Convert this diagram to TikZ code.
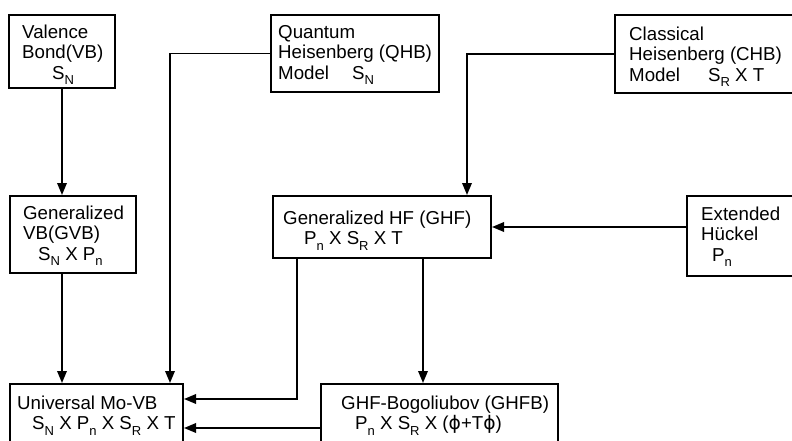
\documentclass[tikz,border=0pt]{standalone}
\usepackage{fontspec}
\setmainfont{Liberation Sans}
\newfontfamily\phifont{DejaVu Sans}
\usetikzlibrary{arrows.meta}
\newcommand{\lsub}[1]{\raisebox{-0.28em}{\fontsize{13pt}{13pt}\selectfont #1}}
\begin{document}
\begin{tikzpicture}[x=1pt,y=-1pt,
  blk/.style={draw, line width=2pt, inner sep=0pt, rectangle},
  txt/.style={anchor=north west, inner sep=0pt, align=left, font=\fontsize{18.7pt}{20.5pt}\selectfont},
  conn/.style={line width=1.8pt, -{Triangle[length=12pt,width=9.5pt]}}]
\useasboundingbox (0,0) rectangle (792,441);
\clip (0,0) rectangle (792,441);
% boxes
\node[blk, minimum width=106pt, minimum height=73pt] (vb) at (62,51.5) {};
\node[blk, minimum width=168pt, minimum height=77pt] (qhb) at (355,53.5) {};
\node[blk, minimum width=215pt, minimum height=78pt] (chb) at (722.5,54) {};
\node[blk, minimum width=126pt, minimum height=77pt] (gvb) at (73,234.5) {};
\node[blk, minimum width=218pt, minimum height=62pt] (ghf) at (382,227) {};
\node[blk, minimum width=143pt, minimum height=80pt] (ehk) at (758.5,236) {};
\node[blk, minimum width=173pt, minimum height=96pt] (umv) at (96.5,432) {};
\node[blk, minimum width=237pt, minimum height=96pt] (ghfb) at (439.5,432) {};
% texts
\node[txt] (tvb) at (22,24.6) {Valence\\Bond(VB)\\\hspace*{30pt}S\lsub{N}};
\node[txt] (tqhb) at (278,25) {Quantum\\Heisenberg (QHB)\\Model\hspace{23pt}S\lsub{N}};
\node[txt] (tchb) at (629,26.6) {Classical\\Heisenberg (CHB)\\Model\hspace{28pt}S\lsub{R} X T};
\node[txt] (tgvb) at (23,205.6) {Generalized\\VB(GVB)\\\hspace*{15pt}S\lsub{N} X P\lsub{n}};
\node[txt] (tghf) at (283,210.6) {Generalized HF (GHF)\\\hspace*{21pt}P\lsub{n} X S\lsub{R} X T};
\node[txt] (tehk) at (701,206.6) {Extended\\Hückel\\\hspace*{11pt}P\lsub{n}};
\node[txt] (tumv) at (17,395.6) {Universal Mo-VB\\\hspace*{15pt}S\lsub{N} X P\lsub{n} X S\lsub{R} X T};
\node[txt] (tghfb) at (341,395.6) {GHF-Bogoliubov (GHFB)\\\hspace*{14pt}P\lsub{n} X S\lsub{R} X ({\phifont ϕ}+T{\phifont ϕ})};
% helper coordinates
\coordinate (q1) at (170,0);
\coordinate (c1) at (467,0);
\coordinate (g1) at (297,0);
\coordinate (g2) at (423,0);
\coordinate (r1) at (0,399);
\coordinate (r2) at (0,428);
% connectors
\draw[conn] (vb.south) -- (vb.south |- gvb.north);
\draw[conn] (vb.south |- gvb.south) -- (vb.south |- umv.north);
\draw[conn] (qhb.west) -| (q1 |- umv.north);
\draw[conn] (chb.west) -| (c1 |- ghf.north);
\draw[conn] (ghf.east -| ehk.west) -- (ghf.east);
\draw[conn] (g1 |- ghf.south) |- (umv.east |- r1);
\draw[conn] (g2 |- ghf.south) -- (g2 |- ghfb.north);
\draw[conn] (ghfb.west |- r2) -- (umv.east |- r2);
\end{tikzpicture}
\end{document}
